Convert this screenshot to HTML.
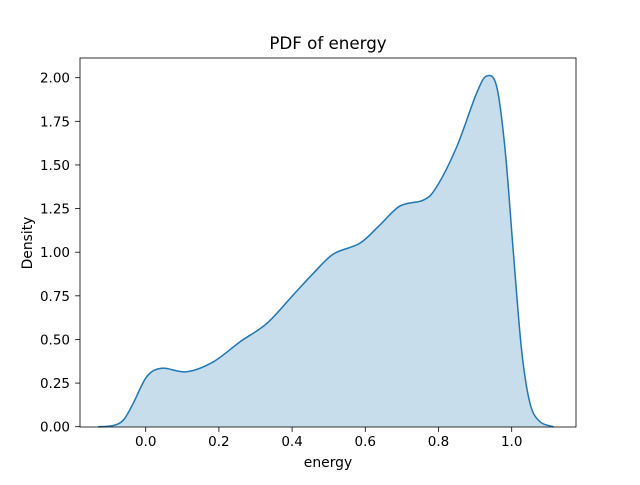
<!DOCTYPE html>
<html><head><meta charset="utf-8"><style>
body{margin:0;background:#fff}
text{font-family:"DejaVu Sans","Liberation Sans",sans-serif;fill:#000}
</style></head><body>
<svg id="chart" width="640" height="480" viewBox="0 0 640 480">
<rect width="640" height="480" fill="#fff"/>
<g id="plot"></g>
<text x="328" y="49" font-size="16.7" text-anchor="middle">PDF of energy</text>
<text x="328" y="467" font-size="13.9" text-anchor="middle">energy</text>
<text transform="translate(32,243) rotate(-90)" font-size="13.9" text-anchor="middle">Density</text>
</svg>
<script>
const xs=[-0.13,-0.09,-0.061,-0.034,0.003,0.044,0.112,0.185,0.258,0.331,0.403,0.458,0.513,0.585,0.640,0.695,0.759,0.795,0.850,0.904,0.932,0.959,0.982,1.004,1.027,1.050,1.077,1.114];
const ys=[0,0.006,0.038,0.134,0.287,0.335,0.315,0.372,0.487,0.592,0.755,0.879,0.990,1.051,1.156,1.265,1.299,1.375,1.605,1.911,2.010,1.949,1.587,1.013,0.440,0.134,0.029,0];
const xTicks=[0,0.2,0.4,0.6,0.8,1.0];
const xTickLabels=["0.0","0.2","0.4","0.6","0.8","1.0"];
const yTicks=[0,0.25,0.5,0.75,1,1.25,1.5,1.75,2];
const yTickLabels=["0.00","0.25","0.50","0.75","1.00","1.25","1.50","1.75","2.00"];
const L=80,R=576,T=58,B=427;
const X=v=>145.7+v*366, Y=v=>426.7-v*174.5;
const g=document.getElementById('plot');
const NS='http://www.w3.org/2000/svg';
function mk(t,a){const e=document.createElementNS(NS,t);for(const k in a)e.setAttribute(k,a[k]);g.appendChild(e);return e;}
const P=xs.map((x,i)=>[X(x),Y(ys[i])]);
let d=`M${P[0][0]},${P[0][1]}`;
for(let i=0;i<P.length-1;i++){const p0=P[Math.max(i-1,0)],p1=P[i],p2=P[i+1],p3=P[Math.min(i+2,P.length-1)];
d+=` C${p1[0]+(p2[0]-p0[0])/6},${p1[1]+(p2[1]-p0[1])/6} ${p2[0]-(p3[0]-p1[0])/6},${p2[1]-(p3[1]-p1[1])/6} ${p2[0]},${p2[1]}`;}
const fill=mk('path',{d:d+` L${P[P.length-1][0]},${Y(0)} L${P[0][0]},${Y(0)} Z`,fill:'#1f77b4','fill-opacity':0.25,stroke:'none'});


const line=mk('path',{d:d,fill:'none',stroke:'#1f77b4','stroke-width':1.5});


const frame=mk('rect',{x:L,y:T,width:R-L,height:B-T,fill:'none',stroke:'#000','stroke-width':0.8});


xTicks.forEach((v,i)=>{const x=X(v);
const t=mk('line',{x1:x,x2:x,y1:B,y2:B+4.9,stroke:'#000','stroke-width':0.8});


const l=mk('text',{x:x,y:B+19,'font-size':13.5,'text-anchor':'middle'});l.textContent=xTickLabels[i];

});
yTicks.forEach((v,i)=>{const y=Y(v);
const t=mk('line',{x1:L-4.9,x2:L,y1:y,y2:y,stroke:'#000','stroke-width':0.8});


const l=mk('text',{x:L-10,y:y+5,'font-size':13.5,'text-anchor':'end'});l.textContent=yTickLabels[i];

});
</script>
</body></html>
